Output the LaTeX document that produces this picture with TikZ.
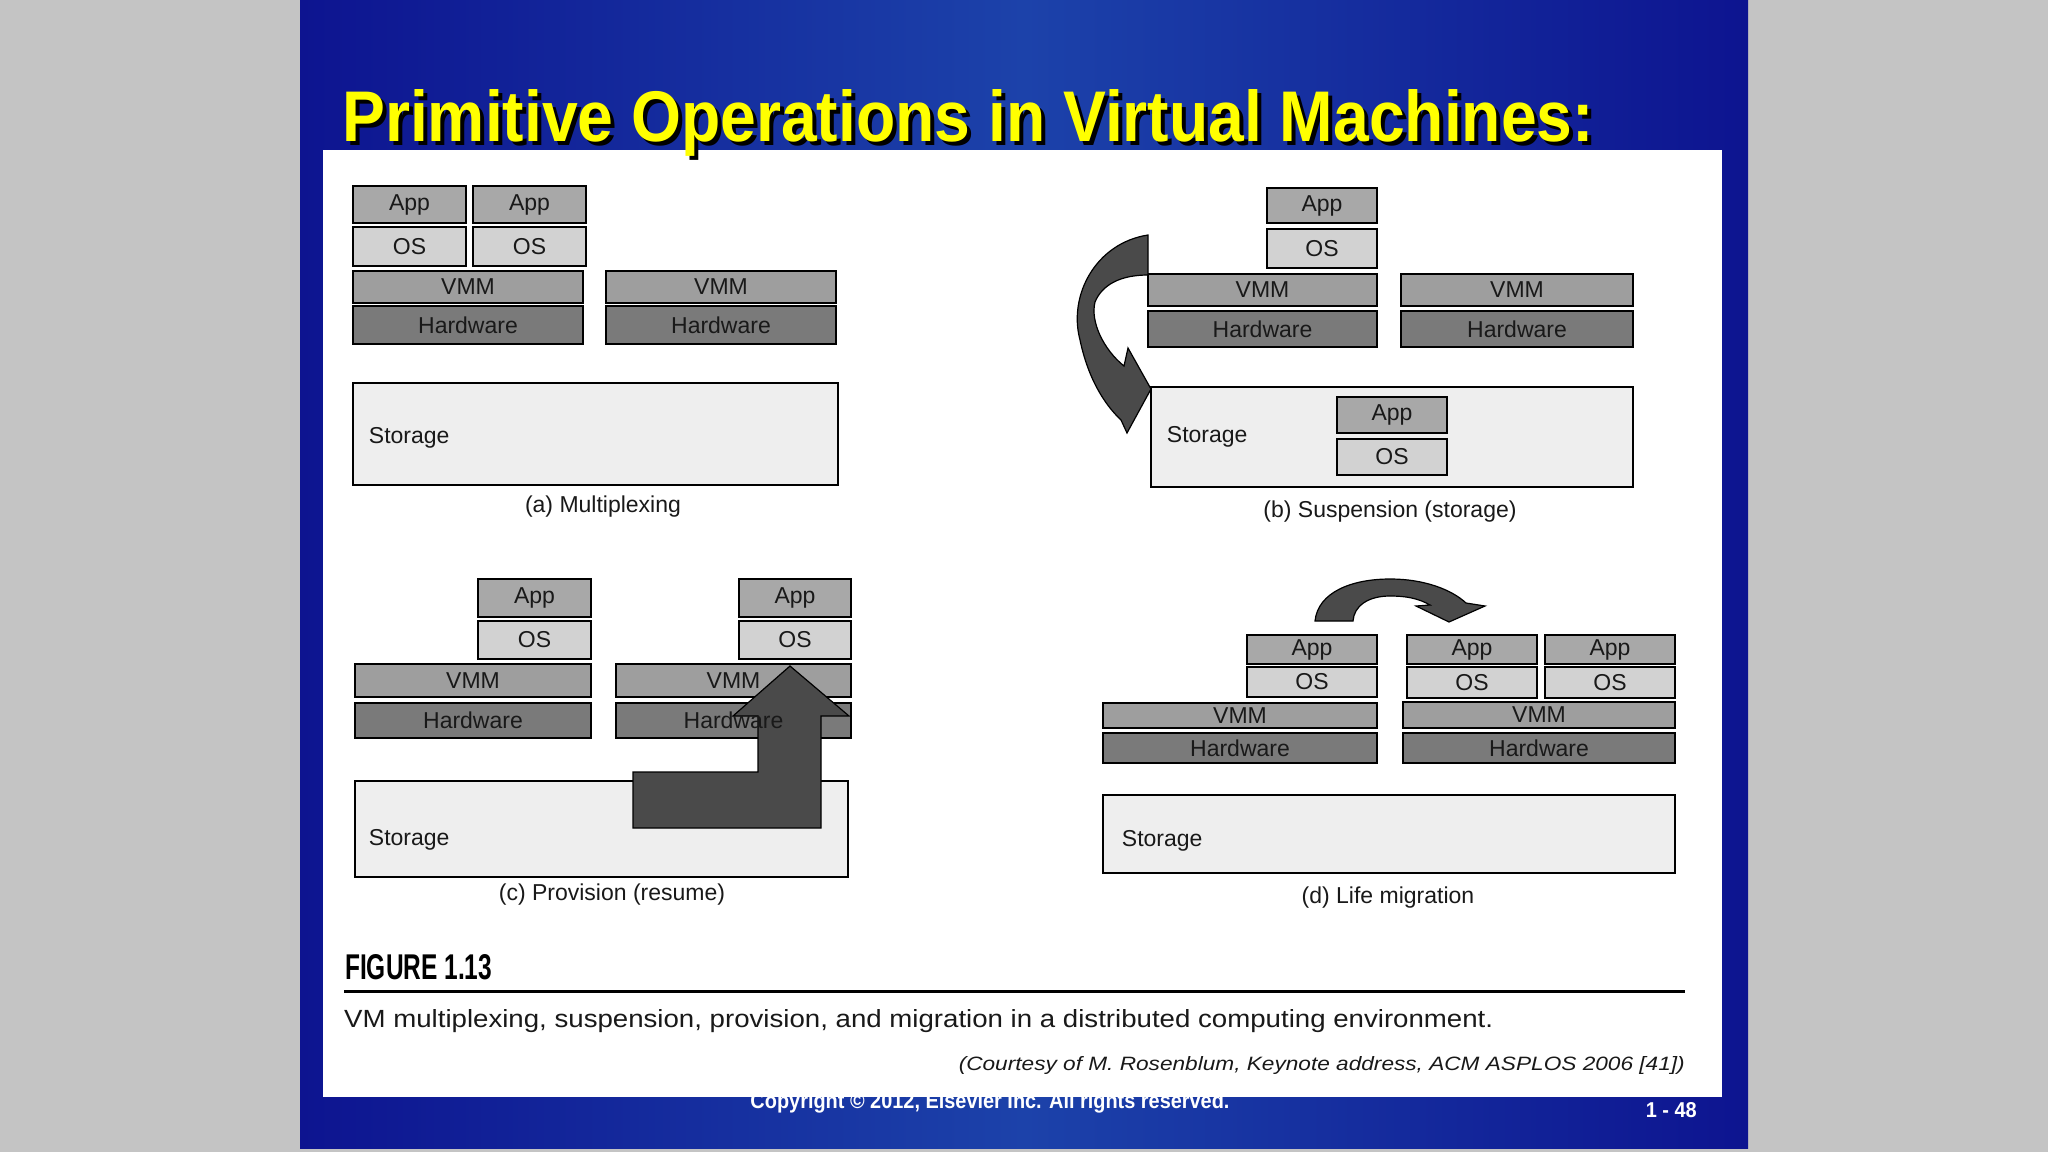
\documentclass[tikz,border=0pt]{standalone}
\usepackage{fontspec}
\setmainfont{Liberation Sans}
\usepackage{graphicx}

\definecolor{appgray}{HTML}{A8A8A8}
\definecolor{osgray}{HTML}{D2D2D2}
\definecolor{vmmgray}{HTML}{9E9E9E}
\definecolor{hwgray}{HTML}{7A7A7A}
\definecolor{storegray}{HTML}{EEEEEE}
\definecolor{arrowgray}{HTML}{4A4A4A}
\definecolor{slidedark}{HTML}{0D1490}
\definecolor{slidemid}{HTML}{1C42AA}
\definecolor{titleyellow}{HTML}{FFFF00}
\definecolor{outergray}{HTML}{C4C4C4}

\newcommand{\boxfont}{\fontsize{23}{26}\selectfont}
\newcommand{\capfont}{\fontsize{23}{26}\selectfont}
\newcommand{\titletext}{\resizebox{1251pt}{52pt}{\bfseries Primitive Operations in Virtual Machines:}}
% one layer of a stack: name, style, x1, y1, x2, y2, text
\newcommand{\vmbox}[7]{\node[#2, minimum width={#5-#3}, minimum height={#6-#4}] (#1) at ({(#3+#5)/2},{(#4+#6)/2}) {#7};}

\tikzset{
  stackbox/.style={draw=black, line width=2.5pt, inner sep=0pt, font=\boxfont, text=black!90},
  app/.style={stackbox, fill=appgray},
  os/.style={stackbox, fill=osgray},
  vmm/.style={stackbox, fill=vmmgray},
  hw/.style={stackbox, fill=hwgray},
  store/.style={stackbox, fill=storegray},
  storelabel/.style={anchor=west, inner sep=0pt, font=\capfont, text=black!90},
  bigarrow/.style={draw=black, line width=1.2pt, fill=arrowgray},
  caption/.style={inner sep=0pt, font=\capfont, text=black!90},
}

\begin{document}
\begin{tikzpicture}[x=1pt, y=-1pt]
\useasboundingbox (0,0) rectangle (2048,1152);
\fill [outergray] (0,0) rectangle (2048,1152);
\shade [left color=slidedark, right color=slidedark, middle color=slidemid] (300,0) rectangle (1748,1148);

% footer behind the white panel
\node [anchor=base, inner sep=0pt, text=white] (copyright) at (990,1108)
  {\resizebox{479pt}{16pt}{\bfseries Copyright © 2012, Elsevier Inc. All rights reserved.}};
\node [anchor=base east, inner sep=0pt, text=white] (pagenum) at (1697,1117)
  {\resizebox{51pt}{15pt}{\bfseries 1 - 48}};

\fill [white] (323,150) rectangle (1722,1097);

% title with shadow
\node [anchor=base west, inner sep=0pt, text=black] (titleshadow) at (346,145) {\titletext};
\node [anchor=base west, inner sep=0pt, text=titleyellow] (title) at (342,141) {\titletext};

% (a) Multiplexing
\vmbox{appA1}{app}{353}{186}{466}{223}{App}
\vmbox{osA1}{os}{353}{227}{466}{266}{OS}
\vmbox{appA2}{app}{473}{186}{586}{223}{App}
\vmbox{osA2}{os}{473}{227}{586}{266}{OS}
\vmbox{vmmA1}{vmm}{353}{271}{583}{303}{VMM}
\vmbox{hwA1}{hw}{353}{306}{583}{344}{Hardware}
\vmbox{vmmA2}{vmm}{606}{271}{836}{303}{VMM}
\vmbox{hwA2}{hw}{606}{306}{836}{344}{Hardware}
\vmbox{stoA}{store}{353}{383}{838}{485}{}
\node [storelabel] (stoAlbl) at ([yshift=-4pt, xshift=17pt]stoA.west) {Storage};
\node [caption] (capA) at (603,507) {(a) Multiplexing};

% (b) Suspension
\vmbox{appB}{app}{1267}{188}{1377}{223}{App}
\vmbox{osB}{os}{1267}{229}{1377}{268}{OS}
\vmbox{vmmB1}{vmm}{1148}{274}{1377}{306}{VMM}
\vmbox{hwB1}{hw}{1148}{311}{1377}{347}{Hardware}
\vmbox{vmmB2}{vmm}{1401}{274}{1633}{306}{VMM}
\vmbox{hwB2}{hw}{1401}{311}{1633}{347}{Hardware}
\vmbox{stoB}{store}{1151}{387}{1633}{487}{}
\node [storelabel] (stoBlbl) at ([xshift=17pt]stoB.west) {Storage};
\vmbox{appBs}{app}{1337}{397}{1447}{433}{App}
\vmbox{osBs}{os}{1337}{439}{1447}{475}{OS}
\node [caption] (capB) at (1390,512) {(b) Suspension (storage)};
\draw [bigarrow] (1148,235) .. controls (1096,243) and (1068,295) .. (1080,340)
  .. controls (1088,378) and (1104,404) .. (1121,420) -- (1127,433) -- (1151,389)
  -- (1128,348) -- (1124,366) .. controls (1104,350) and (1090,322) .. (1095,302)
  .. controls (1102,285) and (1120,275) .. (1148,275) -- cycle;

% (c) Provision
\vmbox{appC1}{app}{478}{579}{591}{617}{App}
\vmbox{osC1}{os}{478}{621}{591}{659}{OS}
\vmbox{vmmC1}{vmm}{355}{664}{591}{697}{VMM}
\vmbox{hwC1}{hw}{355}{703}{591}{738}{Hardware}
\vmbox{appC2}{app}{739}{579}{851}{617}{App}
\vmbox{osC2}{os}{739}{621}{851}{659}{OS}
\vmbox{vmmC2}{vmm}{616}{664}{851}{697}{VMM}
\vmbox{hwC2}{hw}{616}{703}{851}{738}{}
\vmbox{stoC}{store}{355}{781}{848}{877}{}
\node [storelabel] (stoClbl) at ([yshift=-11pt, xshift=15pt]stoC.west) {Storage};
\node [caption] (capC) at (612,895) {(c) Provision (resume)};
\draw [bigarrow] (633,772) -- (758,772) -- (758,716) -- (733,716) -- (790,666)
  -- (849,716) -- (821,716) -- (821,828) -- (633,828) -- cycle;
\node [font=\boxfont, inner sep=0pt, text=black!90] (hwC2lbl) at (hwC2) {Hardware};

% (d) Live migration
\vmbox{appD1}{app}{1247}{635}{1377}{664}{App}
\vmbox{osD1}{os}{1247}{667}{1377}{697}{OS}
\vmbox{vmmD1}{vmm}{1103}{703}{1377}{728}{VMM}
\vmbox{hwD1}{hw}{1103}{733}{1377}{763}{Hardware}
\vmbox{appD2}{app}{1407}{635}{1537}{664}{App}
\vmbox{osD2}{os}{1407}{667}{1537}{698}{OS}
\vmbox{appD3}{app}{1545}{635}{1675}{664}{App}
\vmbox{osD3}{os}{1545}{667}{1675}{698}{OS}
\vmbox{vmmD2}{vmm}{1403}{702}{1675}{728}{VMM}
\vmbox{hwD2}{hw}{1403}{733}{1675}{763}{Hardware}
\vmbox{stoD}{store}{1103}{795}{1675}{873}{}
\node [storelabel] (stoDlbl) at ([yshift=-7pt, xshift=20pt]stoD.west) {Storage};
\node [caption] (capD) at (1388,898) {(d) Life migration};
\draw [bigarrow] (1315,621) .. controls (1318,592) and (1352,579) .. (1390,579)
  .. controls (1425,579) and (1452,590) .. (1466,603) -- (1485,606) -- (1449,622)
  -- (1416,606) -- (1430,605) .. controls (1418,598) and (1405,596) .. (1390,596)
  .. controls (1368,596) and (1354,606) .. (1353,621) -- cycle;

% figure caption
\node [anchor=base west, inner sep=0pt] (figlabel) at (345,979)
  {\resizebox{147pt}{25pt}{\bfseries FIGURE 1.13}};
\coordinate (ruleL) at (344,991);
\coordinate (ruleR) at (1685,991);
\draw [line width=3pt] (ruleL) -- (ruleR);
\node [anchor=base west, inner sep=0pt, text=black!90] (figtext) at (344,1027)
  {\resizebox{1149pt}{18pt}{VM multiplexing, suspension, provision, and migration in a distributed computing environment.}};
\node [anchor=base east, inner sep=0pt, text=black!90] (courtesy) at (1685,1070)
  {\resizebox{726pt}{14pt}{\itshape (Courtesy of M. Rosenblum, Keynote address, ACM ASPLOS 2006 [41])}};

\end{tikzpicture}
\end{document}
